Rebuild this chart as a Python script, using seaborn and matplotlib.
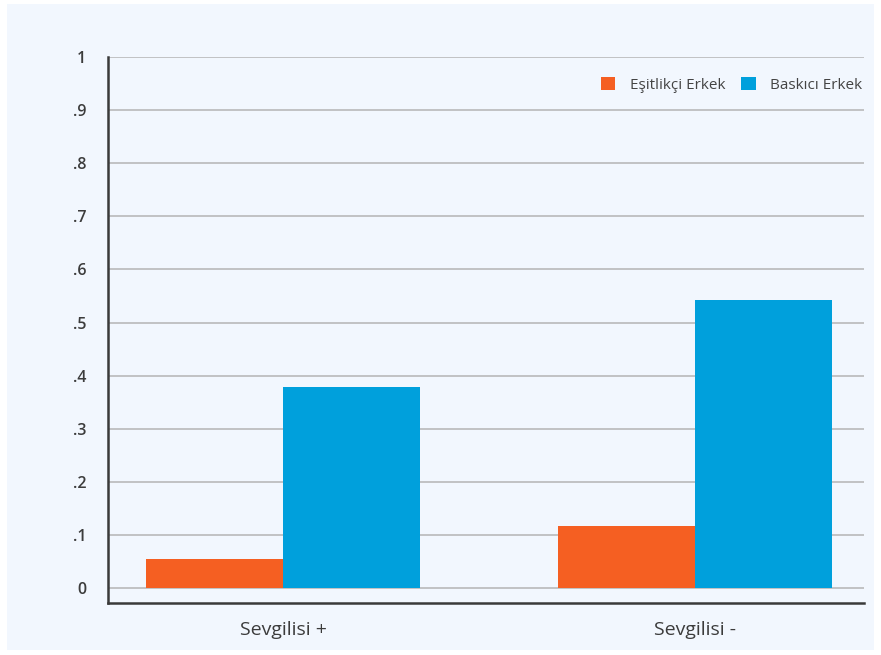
import matplotlib
matplotlib.use("Agg")
import matplotlib.pyplot as plt
import seaborn as sns
import pandas as pd
from matplotlib.patches import Rectangle

categories = ["Sevgilisi +", "Sevgilisi -"]
series_names = ["Eşitlikçi Erkek", "Baskıcı Erkek"]
esitlikci = [0.055, 0.117]
baskici = [0.378, 0.543]
ytick_values = [0, 0.1, 0.2, 0.3, 0.4, 0.5, 0.6, 0.7, 0.8, 0.9, 1.0]
ytick_labels = ["0", ".1", ".2", ".3", ".4", ".5", ".6", ".7", ".8", ".9", "1"]

df = pd.DataFrame({
    "cat": categories * 2,
    "grp": [series_names[0]] * 2 + [series_names[1]] * 2,
    "val": esitlikci + baskici,
})

sns.set_style("white")
plt.rcParams["font.family"] = ["Open Sans", "DejaVu Sans"]

bg = "#f2f7fe"
fig = plt.figure(figsize=(8.81, 6.55), dpi=100, facecolor="white")
fig.patches.append(Rectangle((7 / 881, 1 - 650 / 655), 867 / 881, 646 / 655,
                             transform=fig.transFigure, facecolor=bg, edgecolor="none", zorder=-10))
ax = fig.add_axes([108 / 881, 1 - 603 / 655, 756 / 881, 546 / 655])
ax.set_facecolor(bg)

palette = {series_names[0]: "#f55f22", series_names[1]: "#00a0dc"}
sns.barplot(data=df, x="cat", y="val", hue="grp", order=categories, hue_order=series_names,
            palette=palette, width=0.665, saturation=1, ax=ax, zorder=3, edgecolor="none",
            linewidth=0)

ax.set_xlim(-0.425, 1.41)
ax.set_ylim(-0.028, 1.0)
ax.set_yticks(ytick_values)
ax.set_yticklabels(ytick_labels)
ax.yaxis.grid(True, color="#b4b4b4", linewidth=1.1, zorder=1)
ax.set_axisbelow(True)
ax.tick_params(axis="y", length=8.6, width=1.1, color="#b4b4b4", pad=7,
               labelsize=11.5, labelcolor="#3c3c3c")
ax.tick_params(axis="x", length=0, pad=13, labelsize=14, labelcolor="#3c3c3c")
for lbl in ax.get_yticklabels():
    lbl.set_fontweight("semibold")
ax.set_xlabel("")
ax.set_ylabel("")
for s in ["top", "right"]:
    ax.spines[s].set_visible(False)
for s in ["left", "bottom"]:
    ax.spines[s].set_color("#3a3a3a")
    ax.spines[s].set_linewidth(1.8)
    ax.spines[s].set_zorder(4)

handles, labels = ax.get_legend_handles_labels()
ax.legend(handles, labels, loc="center right", bbox_to_anchor=(1.008, 0.949), ncol=2, frameon=False,
          fontsize=11, labelcolor="#444444", handlelength=0.95, handleheight=0.95,
          handletextpad=0.95, columnspacing=1.05, borderaxespad=0.1)

fig.savefig("out.png", dpi=100, facecolor="white")
